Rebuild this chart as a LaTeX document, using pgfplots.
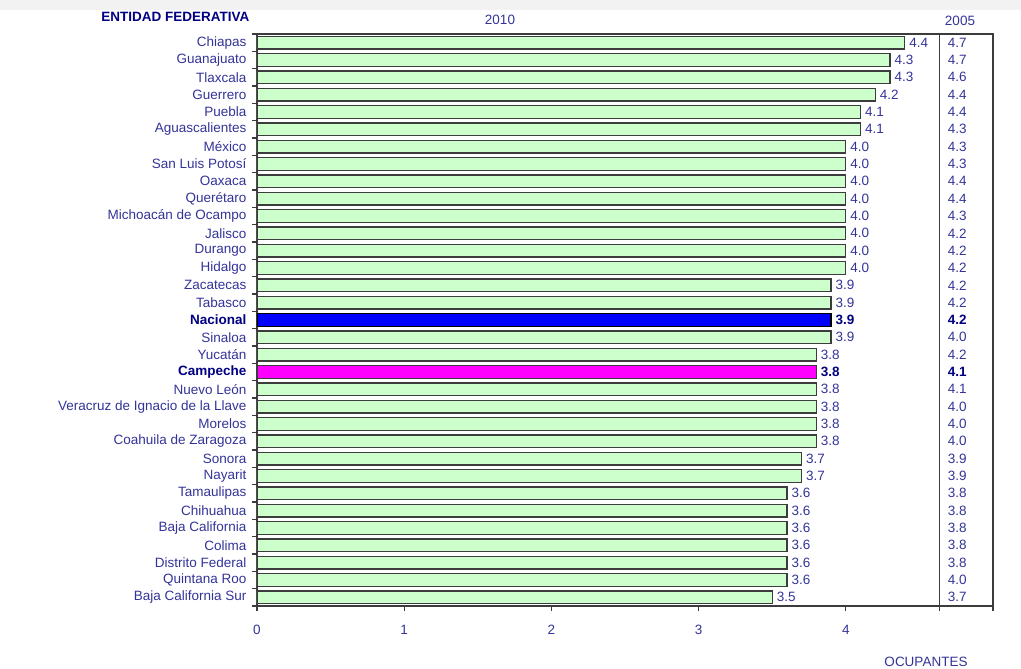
\documentclass[border=0pt]{standalone}
\usepackage{fontspec}
\setmainfont{Liberation Sans}
\usepackage{pgfplots}
\usepackage{pgfplotstable}
\pgfplotsset{compat=1.18}

\definecolor{txt}{RGB}{51,51,153}
\definecolor{navy}{RGB}{0,0,128}
\definecolor{barfill}{RGB}{204,255,204}
\definecolor{axisgray}{RGB}{60,60,60}
\definecolor{campeche}{RGB}{255,0,255}
\definecolor{nacional}{RGB}{0,0,255}
\newcommand{\lbl}{\fontsize{13.5}{15}\selectfont}

% y = position from top, v10 = 2010, v05 = 2005
\pgfplotstableread[col sep=comma]{
y,v10,v05
0,4.4,4.7
1,4.3,4.7
2,4.3,4.6
3,4.2,4.4
4,4.1,4.4
5,4.1,4.3
6,4.0,4.3
7,4.0,4.3
8,4.0,4.4
9,4.0,4.4
10,4.0,4.3
11,4.0,4.2
12,4.0,4.2
13,4.0,4.2
14,3.9,4.2
15,3.9,4.2
17,3.9,4.0
18,3.8,4.2
20,3.8,4.1
21,3.8,4.0
22,3.8,4.0
23,3.8,4.0
24,3.7,3.9
25,3.7,3.9
26,3.6,3.8
27,3.6,3.8
28,3.6,3.8
29,3.6,3.8
30,3.6,3.8
31,3.6,4.0
32,3.5,3.7
}\estados

\begin{document}
\begin{tikzpicture}[font=\lbl]
\useasboundingbox (-257pt,-63pt) rectangle (764pt,606pt);
\fill[gray!10] (-257pt,596pt) rectangle (764pt,606pt);
\begin{axis}[
    at={(0,0)}, anchor=south west,
    width=736pt, height=572pt, scale only axis,
    xmin=0, xmax=5, ymin=-0.5, ymax=32.5, y dir=reverse,
    axis line style={axisgray, line width=1.2pt},
    xtick={0,1,2,3,4},
    extra x ticks={4.637,5}, extra x tick labels={},
    xtick pos=bottom, ytick pos=left, tick align=outside,
    major tick length=5pt, minor tick length=5pt,
    every tick/.style={axisgray, line width=1.2pt},
    major y tick style={draw=none},
    ytick={0,...,32},
    minor ytick={-0.5,0.5,...,32.5},
    yticklabels={Chiapas,Guanajuato,Tlaxcala,Guerrero,Puebla,Aguascalientes,
        México,San Luis Potosí,Oaxaca,Querétaro,Michoacán de Ocampo,Jalisco,
        Durango,Hidalgo,Zacatecas,Tabasco,
        {\textcolor{navy}{\textbf{Nacional}}},
        Sinaloa,Yucatán,
        {\textcolor{navy}{\textbf{Campeche}}},
        Nuevo León,Veracruz de Ignacio de la Llave,Morelos,Coahuila de Zaragoza,
        Sonora,Nayarit,Tamaulipas,Chihuahua,Baja California,Colima,
        Distrito Federal,Quintana Roo,Baja California Sur},
    tick label style={text=txt, font=\lbl},
    xticklabel style={yshift=-11pt},
    yticklabel style={xshift=-2pt},
    /pgf/number format/assume math mode=true,
    point meta=explicit symbolic,
    bar width=0.73, bar shift=0pt,
    every node near coord/.append style={anchor=west, inner sep=0pt, xshift=4pt},
]
\addplot[xbar, fill=barfill, draw=axisgray, line width=1.2pt,
    nodes near coords, every node near coord/.append style={text=txt, font=\lbl}]
    table[x=v10, y=y, meta=v10] {\estados};
\addplot[xbar, fill=nacional, draw=black, line width=1.2pt,
    nodes near coords, every node near coord/.append style={text=navy, font=\lbl\bfseries}]
    coordinates {(3.9,16) [3.9]};
\addplot[xbar, fill=campeche, draw=axisgray, line width=1.2pt,
    nodes near coords, every node near coord/.append style={text=navy, font=\lbl\bfseries}]
    coordinates {(3.8,19) [3.8]};
% 2005 column
\addplot[only marks, mark=none, nodes near coords,
    every node near coord/.append style={text=txt, font=\lbl}]
    table[x expr=4.665, y=y, meta=v05] {\estados};
\addplot[only marks, mark=none, nodes near coords,
    every node near coord/.append style={text=navy, font=\lbl\bfseries}]
    coordinates {(4.665,16) [4.2] (4.665,19) [4.1]};
\draw[axisgray, line width=1.2pt] (axis cs:4.637,-0.5) -- (axis cs:4.637,32.5);
\end{axis}
\node[anchor=east, text=navy, font=\lbl\bfseries] at (-4pt,589pt) {ENTIDAD FEDERATIVA};
\node[text=txt] at (243pt,586pt) {2010};
\node[text=txt] at (703pt,585pt) {2005};
\node[text=txt] at (669pt,-56pt) {OCUPANTES};
\end{tikzpicture}
\end{document}
